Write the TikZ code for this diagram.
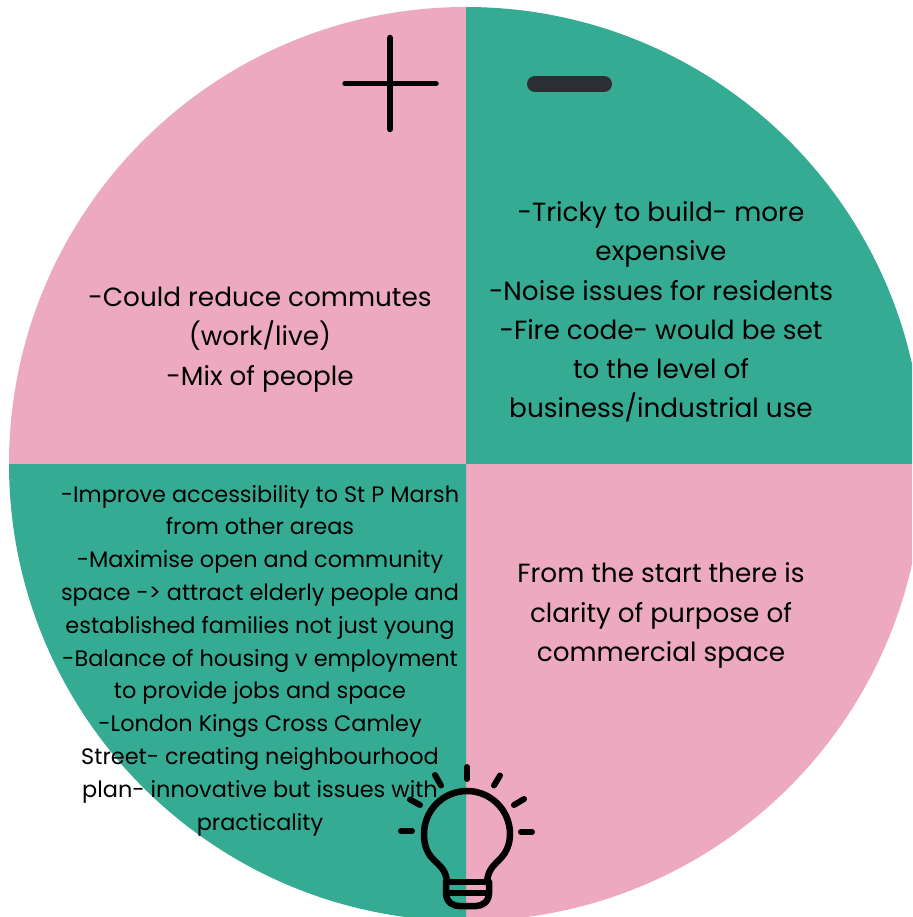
\documentclass[tikz,border=0pt]{standalone}
\usepackage{fontspec}
\setmainfont{Poppins}
\definecolor{pinkq}{HTML}{EDA9C0}
\definecolor{greenq}{HTML}{36AB93}
\definecolor{darkbar}{HTML}{2B2F33}
\tikzset{
  bigtext/.style={align=center,inner sep=0pt,text=black,font=\fontsize{26.3}{39.2}\selectfont},
  smalltext/.style={align=center,inner sep=0pt,text=black,font=\fontsize{22.4}{32.8}\selectfont},
  bulbline/.style={draw=black,line width=6.5pt,line cap=round,line join=round},
  rayline/.style={draw=black,line width=6pt,line cap=round}
}
\begin{document}
\begin{tikzpicture}[x=1pt,y=-1pt]
\useasboundingbox (0,0) rectangle (912,917);
\begin{scope}
\clip (0,0) rectangle (912,917);
\fill[pinkq] (466,464) -- (9,464) arc[start angle=180,end angle=90,radius=457pt] -- cycle;
\fill[greenq] (466,464) -- (466,7) arc[start angle=90,end angle=0,radius=457pt] -- cycle;
\fill[pinkq] (466,464) -- (923,464) arc[start angle=0,end angle=-90,radius=457pt] -- cycle;
\fill[greenq] (466,464) -- (466,921) arc[start angle=-90,end angle=-180,radius=457pt] -- cycle;
\end{scope}
\draw[black,line width=5.5pt,line cap=round] (345,83.5) -- (436,83.5);
\draw[black,line width=6.5pt,line cap=round] (390,38) -- (390,129);
\draw[darkbar,line width=16pt,line cap=round] (535,84) -- (604,84);
\node[bigtext] (tl) at (260,339.5) {-Could reduce commutes\\(work/live)\\-Mix of people};
\node[bigtext] (tr) at (661,312) {-Tricky to build- more\\expensive\\-Noise issues for residents\\-Fire code- would be set\\to the level of\\business/industrial use};
\node[bigtext] (br) at (661,615.5) {From the start there is\\clarity of purpose of\\commercial space};
\node[smalltext] (bl) at (260,660.5) {-Improve accessibility to St P Marsh\\from other areas\\-Maximise open and community\\space -> attract elderly people and\\established families not just young\\-Balance of housing v employment\\to provide jobs and space\\-London Kings Cross Camley\\Street- creating neighbourhood\\plan- innovative but issues with\\practicality};
% light bulb
\draw[bulbline] (447,882) .. controls (446,870) and (440,866) .. (433,859)
  .. controls (426,852) and (424,843) .. (424,834)
  arc[start angle=180,end angle=0,radius=43pt]
  .. controls (510,843) and (507,852) .. (500,859)
  .. controls (493,866) and (488,870) .. (487,882);
\draw[bulbline] (446,882) -- (489,882);
\draw[bulbline] (446,893) -- (489,893);
\draw[bulbline] (446,882) -- (446,893) .. controls (446,902) and (453,906) .. (459,906) -- (476,906) .. controls (482,906) and (489,902) .. (489,893) -- (489,882);
\draw[rayline] (467,767) -- (467,779);
\draw[rayline] (435,775) -- (441,785.5);
\draw[rayline] (410,799.5) -- (420,805);
\draw[rayline] (401,831) -- (412,831);
\draw[rayline] (500,775.5) -- (494,785.5);
\draw[rayline] (524,799) -- (514,805);
\draw[rayline] (521,832) -- (532,832);
\end{tikzpicture}
\end{document}
